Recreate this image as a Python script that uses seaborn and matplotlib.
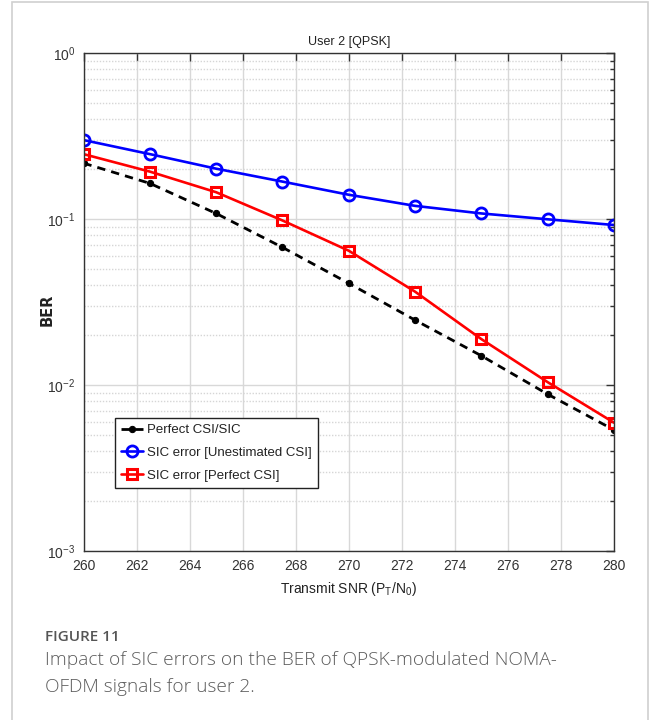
import numpy as np
import pandas as pd
import matplotlib
matplotlib.use("Agg")
import matplotlib.pyplot as plt
import seaborn as sns
from matplotlib.patches import Rectangle
from matplotlib.ticker import LogLocator, NullFormatter, FixedLocator

# ---- data ----
snr = [260, 262.5, 265, 267.5, 270, 272.5, 275, 277.5, 280]
ber_perfect = [0.217, 0.164, 0.108, 0.0675, 0.041, 0.0246, 0.0150, 0.0088, 0.00536]
ber_unestimated = [0.299, 0.246, 0.201, 0.168, 0.140, 0.120, 0.108, 0.0996, 0.092]
ber_sic_perfect = [0.246, 0.193, 0.145, 0.098, 0.0644, 0.0365, 0.0189, 0.0104, 0.00593]
series_names = ["Perfect CSI/SIC", "SIC error [Unestimated CSI]", "SIC error [Perfect CSI]"]
x_ticks = [260, 262, 264, 266, 268, 270, 272, 274, 276, 278, 280]

sns.set_style("white")
plt.rcParams["font.family"] = ["Liberation Sans", "DejaVu Sans"]
plt.rcParams["mathtext.fontset"] = "custom"
plt.rcParams["mathtext.rm"] = "Liberation Sans"

fig = plt.figure(figsize=(6.58, 7.2), dpi=100)
fig.patches.append(Rectangle((12 / 658, -0.01), (648 - 12) / 658, 1 - 2 / 720 + 0.01,
                             transform=fig.transFigure, fill=False,
                             edgecolor="#d0d0d0", linewidth=1.2))

ax = fig.add_axes([83.5 / 658, 1 - 551 / 720, (614 - 83.5) / 658, (551 - 53) / 720])

sns.lineplot(x=snr, y=ber_perfect, ax=ax, color="black", linestyle=(0, (3, 2.2)),
             linewidth=2.0, marker="o", markersize=4.5, markerfacecolor="black",
             markeredgecolor="black", label=series_names[0])
sns.lineplot(x=snr, y=ber_unestimated, ax=ax, color="#0000ff", linestyle="-",
             linewidth=1.9, marker="o", markersize=8, markerfacecolor="none",
             markeredgecolor="#0000ff", markeredgewidth=2.0, label=series_names[1])
sns.lineplot(x=snr, y=ber_sic_perfect, ax=ax, color="#ff0000", linestyle="-",
             linewidth=1.9, marker="s", markersize=7.5, markerfacecolor="none",
             markeredgecolor="#ff0000", markeredgewidth=2.2, label=series_names[2])

ax.set_yscale("log")
ax.set_ylim(1e-3, 1)
ax.set_xlim(260, 280)
ax.xaxis.set_major_locator(FixedLocator(x_ticks))
ax.yaxis.set_major_locator(LogLocator(base=10, numticks=10))
ax.yaxis.set_minor_locator(LogLocator(base=10, subs=np.arange(2, 10), numticks=20))
ax.yaxis.set_minor_formatter(NullFormatter())

ax.grid(True, which="major", axis="both", color="#d8d8d8", linewidth=1.0, linestyle="-")
ax.grid(True, which="minor", axis="y", color="#d6d6d6", linewidth=1.0, linestyle=(0, (1, 1.2)))
ax.set_axisbelow(True)

for s in ax.spines.values():
    s.set_visible(True)
    s.set_color("#333333")
    s.set_linewidth(1.0)

ax.tick_params(which="both", direction="in", top=True, right=True, colors="#333333",
               labelsize=10, labelcolor="#333333")
ax.tick_params(which="major", length=6, width=1.0, pad=6)
ax.tick_params(which="minor", length=3, width=1.0)

ax.set_title("User 2 [QPSK]", fontsize=9, color="#222222", pad=6)
ax.set_xlabel(r"Transmit SNR (P$_\mathregular{T}$/N$_\mathregular{0}$)", fontsize=10,
              color="#222222", labelpad=5)
ax.set_ylabel("BER", fontsize=10.5, color="#222222", fontweight="bold",
              family=["DejaVu Sans"])
ax.yaxis.set_label_coords((55 - 83.5) / 530.5, 0.485)

leg = ax.legend(loc="upper left", bbox_to_anchor=(115 / 658, 1 - 418 / 720),
                bbox_transform=fig.transFigure, fontsize=9.5, frameon=True,
                fancybox=False, edgecolor="#222222", framealpha=1,
                handlelength=1.7, handletextpad=0.3, borderpad=0.45, labelspacing=0.8,
                borderaxespad=0)
leg.get_frame().set_linewidth(1.0)
for t in leg.get_texts():
    t.set_color("#222222")

fig.text(45 / 658, 1 - 637 / 720, "FIGURE 11", fontsize=11, color="#555555",
         fontweight="semibold", family=["Open Sans", "DejaVu Sans"], va="center")
fig.text(45 / 658, 1 - 660 / 720, "Impact of SIC errors on the BER of QPSK-modulated NOMA-",
         fontsize=13.8, color="#5c5c5c", fontweight="light",
         family=["Open Sans", "DejaVu Sans"], va="center")
fig.text(45 / 658, 1 - 687 / 720, "OFDM signals for user 2.",
         fontsize=13.8, color="#5c5c5c", fontweight="light",
         family=["Open Sans", "DejaVu Sans"], va="center")

fig.savefig("out.png", dpi=100)
